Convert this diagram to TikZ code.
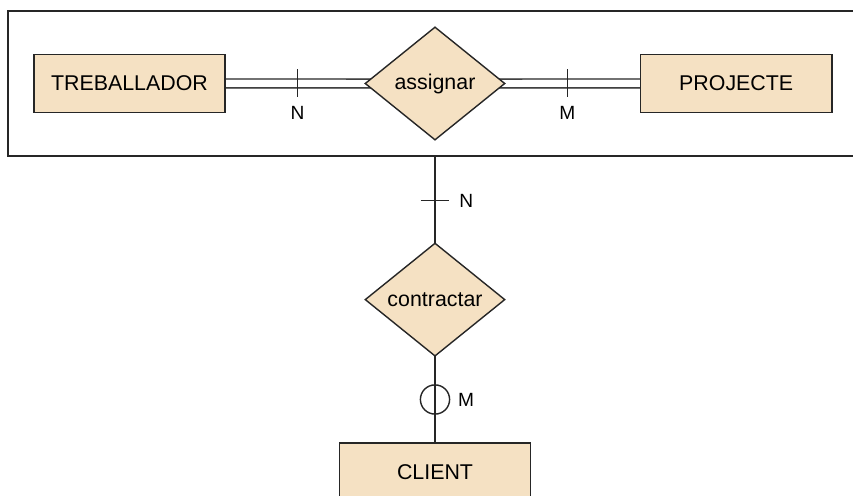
\documentclass[tikz,border=0pt]{standalone}
\usepackage{fontspec}
\setmainfont{Liberation Sans}
\usepackage{tikz}
\usetikzlibrary{positioning,shapes.geometric,backgrounds}
\definecolor{entcolor}{RGB}{245,225,195}
\definecolor{linecolor}{RGB}{38,38,38}

\begin{document}
\begin{tikzpicture}[
  entitat/.style={rectangle,draw=linecolor,fill=entcolor,line width=1pt,
                  minimum width=4.78cm,minimum height=1.45cm,
                  font=\fontsize{15.2}{18}\selectfont},
  relacio/.style={diamond,draw=linecolor,fill=entcolor,line width=1pt,
                  shape aspect=1.24,inner sep=0pt,
                  minimum width=3.5cm,minimum height=2.83cm,
                  font=\fontsize{15.2}{18}\selectfont},
  agregat/.style={rectangle,draw=linecolor,line width=1pt,
                  minimum width=21.8cm,minimum height=3.625cm},
  doble/.style={draw=linecolor,line width=1pt,double=white,double distance=5.3pt},
  simple/.style={draw=linecolor,line width=1pt},
  marca/.style={draw=linecolor,line width=1pt},
  opcio/.style={circle,draw=linecolor,line width=1pt,minimum size=0.73cm,inner sep=0pt},
  card/.style={font=\fontsize{13.6}{16}\selectfont,inner sep=1pt}
]
\useasboundingbox (0,0) rectangle (21.325,-12.375);
% aggregation box around the assignar relationship
\node[agregat] (G) at (11.1,-2.0875) {};
\node[entitat] (T) at (3.2375,-2.085) {TREBALLADOR};
\node[relacio] (A) at (10.875,-2.0875) {assignar};
\node[entitat] (P) at (18.405,-2.085) {PROJECTE};
\node[relacio] (C) at (10.875,-7.49) {contractar};
\node[entitat] (K) at (10.875,-11.8) {CLIENT};
% connectors go under the nodes, to the diamond centres
\begin{scope}[on background layer]
\draw[doble] (T) -- coordinate[pos=0.343] (mN) (A.center);
\draw[doble] (A.center) -- coordinate[pos=0.646] (mM) (P);
\draw[simple] (G.south -| C.north) -- coordinate[pos=0.306] (mNc) (C.center);
\draw[simple] (C.center) -- coordinate[pos=0.70] (mMc) (K);
\end{scope}
% cardinalities
\draw[marca] (mN) +(0,0.35) -- +(0,-0.35);
\node[card] (lN) at ([yshift=-0.74cm]mN) {N};
\draw[marca] (mM) +(0,0.35) -- +(0,-0.35);
\node[card] (lM) at ([yshift=-0.74cm]mM) {M};
\draw[marca] (mNc) +(-0.36,0) -- +(0.36,0);
\node[card] (lNc) at ([xshift=0.78cm]mNc) {N};
\node[opcio] (O) at (mMc) {};
\node[card] (lMc) at ([xshift=0.78cm]mMc) {M};
\end{tikzpicture}
\end{document}
